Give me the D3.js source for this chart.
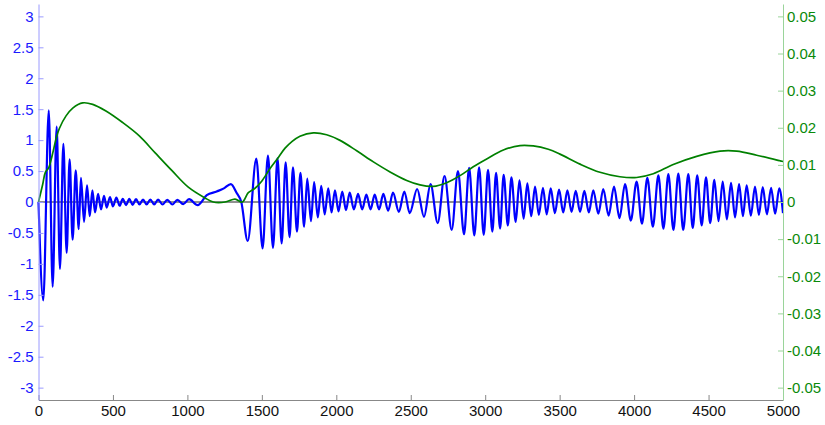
<!DOCTYPE html>
<html>
<head>
<meta charset="utf-8">
<script src="https://cdn.jsdelivr.net/npm/d3@7"></script>
<style>
  body { margin: 0; background: #fff; }
  svg text { font-family: "Liberation Sans", Arial, sans-serif; font-size: 15px; }
</style>
</head>
<body>
<div id="chart"></div>
<script>
// blue signal: peaks and troughs (x, left axis value)
var blueX = [0,32,69,95,122,144,167,189,209,229,250,270,285,306,326,344,362,380,400,420,440,458,480,500,523,545,
  566,588,610,632,655,678,702,726,751,777,803,833,865,899,933,972,1011,1069,
  1130,1197,1245,1292,1330,1362,1405,1463,1505,1541,1575,1605,1633,1660,1686,1709,1736,1759,1784,1805,1830,1851,1876,1899,1922,1946,1968,1991,
  2015,2040,2065,2090,2118,2146,2174,2202,2230,2258,2287,2316,2348,2381,2420,2457,2493,2543,2589,2633,2681,2727,2775,2817,2858,2892,2927,2959,2990,
  3019,3048,3073,3100,3124,3152,3176,3205,3230,3258,3283,3309,3335,3360,3388,3413,3440,3468,3496,3524,3552,3580,3608,3637,3666,3696,3726,3760,3793,3829,3865,3902,3939,3978,
  4017,4053,4089,4126,4163,4197,4230,4264,4297,4330,4364,4394,4424,4454,4483,4511,4539,4567,4595,4623,4651,4678,4705,4731,4756,4784,4812,4838,4864,4892,4920,4947,4975,5000];
var blueY = [0,-1.59,1.48,-1.37,1.22,-1.08,0.94,-0.82,0.69,-0.61,0.51,-0.44,0.39,-0.32,0.27,-0.23,0.19,-0.17,0.13,-0.12,0.10,-0.09,0.08,-0.07,0.07,-0.06,
  0.05,-0.05,0.05,-0.045,0.045,-0.04,0.04,-0.04,0.04,-0.04,0.04,-0.04,0.035,-0.04,0.035,-0.035,0.045,-0.05,
  0.11,0.17,0.22,0.29,0.15,0,-0.63,0.70,-0.75,0.75,-0.74,0.71,-0.67,0.64,-0.57,0.56,-0.48,0.47,-0.40,0.38,-0.31,0.32,-0.25,0.26,-0.20,0.22,-0.17,0.19,
  -0.15,0.17,-0.13,0.15,-0.12,0.13,-0.12,0.12,-0.12,0.12,-0.12,0.13,-0.14,0.15,-0.16,0.17,-0.18,0.21,-0.24,0.29,-0.34,0.42,-0.45,0.50,-0.52,0.55,-0.54,0.56,-0.53,
  0.52,-0.48,0.47,-0.43,0.44,-0.38,0.40,-0.32,0.35,-0.27,0.30,-0.23,0.25,-0.21,0.23,-0.20,0.22,-0.18,0.20,-0.17,0.19,-0.16,0.18,-0.16,0.18,-0.17,0.19,-0.19,0.21,-0.22,0.25,-0.26,0.29,-0.30,
  0.33,-0.35,0.39,-0.40,0.43,-0.43,0.45,-0.45,0.46,-0.45,0.45,-0.42,0.43,-0.38,0.40,-0.34,0.36,-0.31,0.33,-0.28,0.31,-0.25,0.29,-0.23,0.27,-0.22,0.25,-0.21,0.24,-0.20,0.23,-0.19,0.22,-0.18];

// green curve (right axis)
var greenX = [0,28,46,68,91,118,140,185,230,297,364,453,565,677,782,895,1006,1118,1174,1253,1320,1369,1409,1454,1499,1555,1611,1656,1700,1756,1846,1935,
  2025,2137,2249,2361,2473,2562,2651,2741,2831,2920,3010,3122,3234,3323,3424,3502,3637,3771,3905,4017,4129,4263,4420,4577,4689,4823,4980,5000];
var greenY = [0,0.0047,0.0080,0.0092,0.0124,0.0170,0.0198,0.0232,0.0253,0.0267,0.0263,0.0245,0.0214,0.0178,0.0133,0.0085,0.0040,0.0011,0.0000,0.0000,0.0008,0.0000,0.0025,0.0037,0.0056,0.0090,0.0120,0.0145,0.0162,0.0177,0.0186,0.0181,
  0.0166,0.0138,0.0108,0.0081,0.0058,0.0046,0.0042,0.0052,0.0071,0.0095,0.0116,0.0140,0.0152,0.0151,0.0142,0.0129,0.0102,0.0080,0.0068,0.0066,0.0076,0.0101,0.0123,0.0137,0.0137,0.0126,0.0111,0.0109];

var xTicks = [0,500,1000,1500,2000,2500,3000,3500,4000,4500,5000];
var leftTicks = [-3,-2.5,-2,-1.5,-1,-0.5,0,0.5,1,1.5,2,2.5,3];
var rightTicks = [-0.05,-0.04,-0.03,-0.02,-0.01,0,0.01,0.02,0.03,0.04,0.05];

function drawChart() {
    var w = 825, h = 425;
    var pLeft = 38.5, pRight = 783, pTop = 4, pBottom = 400;

    var svg = d3.select("#chart").append("svg")
        .attr("width", w)
        .attr("height", h);

    var x = d3.scaleLinear().domain([0, 5000]).range([pLeft, pRight]);
    var yL = d3.scaleLinear().domain([-3.2, 3.2]).range([pBottom, pTop]);
    var yR = d3.scaleLinear().domain([-3.2 / 60, 3.2 / 60]).range([pBottom, pTop]);

    // zero line
    svg.append("line")
        .attr("x1", pLeft).attr("x2", pRight)
        .attr("y1", yL(0)).attr("y2", yL(0))
        .attr("stroke", "#222")
        .attr("stroke-width", 1);

    var blueLine = d3.line()
        .x(function(d, i) { return x(blueX[i]); })
        .y(function(d) { return yL(d); })
        .curve(d3.curveMonotoneX);

    svg.append("path")
        .attr("d", blueLine(blueY))
        .attr("fill", "none")
        .attr("stroke", "#0000ff")
        .attr("stroke-width", 2.2);

    var greenLine = d3.line()
        .x(function(d, i) { return x(greenX[i]); })
        .y(function(d) { return yR(d); })
        .curve(d3.curveCatmullRom);

    svg.append("path")
        .attr("d", greenLine(greenY))
        .attr("fill", "none")
        .attr("stroke", "#008000")
        .attr("stroke-width", 1.7);

    // axes
    var xAxis = d3.axisBottom(x).tickValues(xTicks).tickSizeInner(-5).tickSizeOuter(0).tickPadding(5)
        .tickFormat(d3.format("d"));
    var gx = svg.append("g")
        .attr("transform", "translate(0," + pBottom + ")")
        .call(xAxis);
    gx.select(".domain").attr("stroke", "#888");
    gx.selectAll(".tick line").attr("stroke", "#888");
    gx.selectAll(".tick text").attr("fill", "#111").style("font-size", "15px");

    var lAxis = d3.axisLeft(yL).tickValues(leftTicks).tickSizeInner(-5).tickSizeOuter(0).tickPadding(5)
        .tickFormat(function(d) { return d; });
    var gl = svg.append("g")
        .attr("transform", "translate(" + pLeft + ",0)")
        .call(lAxis);
    gl.select(".domain").attr("stroke", "#9a9aff");
    gl.selectAll(".tick line").attr("stroke", "#9a9aff");
    gl.selectAll(".tick text").attr("fill", "#1a1aff").style("font-size", "15px");

    var rAxis = d3.axisRight(yR).tickValues(rightTicks).tickSizeInner(-5).tickSizeOuter(0).tickPadding(4)
        .tickFormat(function(d) { return d; });
    var gr = svg.append("g")
        .attr("transform", "translate(" + pRight + ",0)")
        .call(rAxis);
    gr.select(".domain").attr("stroke", "#9ad49a");
    gr.selectAll(".tick line").attr("stroke", "#9ad49a");
    gr.selectAll(".tick text").attr("fill", "#0a8a0a").style("font-size", "15px");
}

drawChart();
</script>
</body>
</html>
